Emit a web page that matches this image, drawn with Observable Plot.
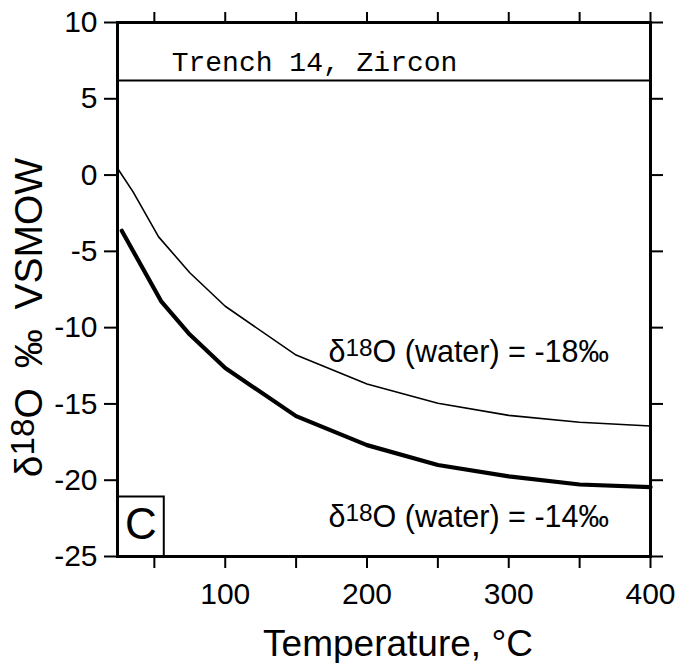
<!DOCTYPE html>
<html>
<head>
<meta charset="utf-8">
<script src="https://cdn.jsdelivr.net/npm/d3@7"></script>
<script src="https://cdn.jsdelivr.net/npm/@observablehq/plot@0.6"></script>
<style>
  html, body { margin: 0; padding: 0; background: #fff; }
  #chart { width: 685px; height: 663px; }
</style>
</head>
<body>
<div id="chart"></div>
<script>
// Temperature (°C) and δ18O values
const tempThin = [24, 35, 53, 75, 100, 150, 200, 250, 300, 350, 400];
const d18oThin = [0.45, -1.1, -4.05, -6.4, -8.6, -11.8, -13.7, -14.95, -15.75, -16.2, -16.45];   // δ18O(water) = -18‰
const tempThick = [27, 55, 75, 100, 150, 200, 250, 300, 350, 400];
const d18oThick = [-3.65, -8.3, -10.45, -12.65, -15.8, -17.7, -19.0, -19.75, -20.28, -20.45];   // δ18O(water) = -14‰
const zirconValue = [6.2];   // Trench 14 zircon

const xTicks = [50, 100, 150, 200, 250, 300, 350, 400];
const xTickLabels = [100, 200, 300, 400];
const yTicks = [-25, -20, -15, -10, -5, 0, 5, 10];

const xDomain = [24, 400];
const yDomain = [-25, 10];

const labels = [
  {text: "δ18O (water) = -18‰", t: 172.8, v: -12.26},
  {text: "δ18O (water) = -14‰", t: 172.8, v: -23.05}
];
const sampleLabel = [{text: "Trench 14, Zircon", t: 163, v: 6.85}];
const panelBox = [{t1: 24, t2: 57, v1: -25, v2: -21.1}];
const panelLabel = [{text: "C", t: 40.5, v: -22.95}];

const thin = tempThin.map((t, i) => ({t, v: d18oThin[i]}));
const thick = tempThick.map((t, i) => ({t, v: d18oThick[i]}));

const sans = "'Liberation Sans', Arial, Helvetica, sans-serif";

const chart = Plot.plot({
  width: 685,
  height: 663,
  marginTop: 22,
  marginBottom: 107,
  marginLeft: 117,
  marginRight: 35,
  style: {fontFamily: sans, background: "#fff", color: "#000", overflow: "visible"},
  x: {domain: xDomain},
  y: {domain: yDomain},
  marks: [
    Plot.axisX({anchor: "bottom", ticks: xTicks, tickSize: 12, tickPadding: 14, fontSize: 30, strokeWidth: 2,
      tickFormat: d => xTickLabels.includes(d) ? String(d) : "", label: null}),
    Plot.axisX({anchor: "top", ticks: xTicks, tickSize: 11, strokeWidth: 2, tickFormat: () => "", label: null}),
    Plot.axisY({anchor: "left", ticks: yTicks, tickSize: 13, tickPadding: 7, fontSize: 30, strokeWidth: 2,
      tickFormat: d => String(d), label: null}),
    Plot.axisY({anchor: "right", ticks: yTicks, tickSize: 12, strokeWidth: 2, tickFormat: () => "", label: null}),
    Plot.ruleY(zirconValue, {stroke: "#000", strokeWidth: 2}),
    Plot.line(thin, {x: "t", y: "v", stroke: "#000", strokeWidth: 1.6}),
    Plot.line(thick, {x: "t", y: "v", stroke: "#000", strokeWidth: 4.2}),
    Plot.rect(panelBox, {x1: "t1", x2: "t2", y1: "v1", y2: "v2", fill: "#fff", stroke: "#000", strokeWidth: 2}),
    Plot.text(panelLabel, {x: "t", y: "v", text: "text", fontSize: 44, fill: "#000"}),
    Plot.text(labels, {x: "t", y: "v", text: "text", textAnchor: "start", lineAnchor: "bottom", fontSize: 30.5, fill: "#000"}),
    Plot.text(sampleLabel, {x: "t", y: "v", text: "text", lineAnchor: "bottom", fontSize: 28, fill: "#000",
      fontFamily: "'Courier New', 'Liberation Mono', monospace"}),
    Plot.text(["Temperature, °C"], {frameAnchor: "bottom", dx: 14, dy: 99, lineAnchor: "bottom", fontSize: 37, fill: "#000"}),
    Plot.text(["δ18O ‰ VSMOW"], {frameAnchor: "left", textAnchor: "middle", lineAnchor: "bottom", rotate: -90,
      dx: -76, dy: 28, fontSize: 39, fill: "#000", className: "ytitle"}),
    Plot.frame({stroke: "#000", strokeWidth: 3})
  ]
});

document.getElementById("chart").appendChild(chart);

d3.select(chart).selectAll(".ytitle text").style("word-spacing", "9px");

// superscript "18" in δ18O
d3.select(chart).selectAll("text").each(function() {
  const el = this;
  if (el.childElementCount > 0) return;
  const s = el.textContent;
  const i = s.indexOf("δ18");
  if (i < 0) return;
  const fs = parseFloat(getComputedStyle(el).fontSize) || 30;
  const isTitle = s.includes("VSMOW");
  const ratio = isTitle ? 0.85 : 0.8;
  const sel = d3.select(el);
  el.textContent = "";
  sel.append("tspan").text(s.slice(0, i + 1));
  sel.append("tspan").attr("font-size", (fs * ratio) + "px").attr("dy", -fs * 0.2).text("18");
  sel.append("tspan").attr("dy", fs * 0.2).text(s.slice(i + 3));
});
</script>
</body>
</html>
